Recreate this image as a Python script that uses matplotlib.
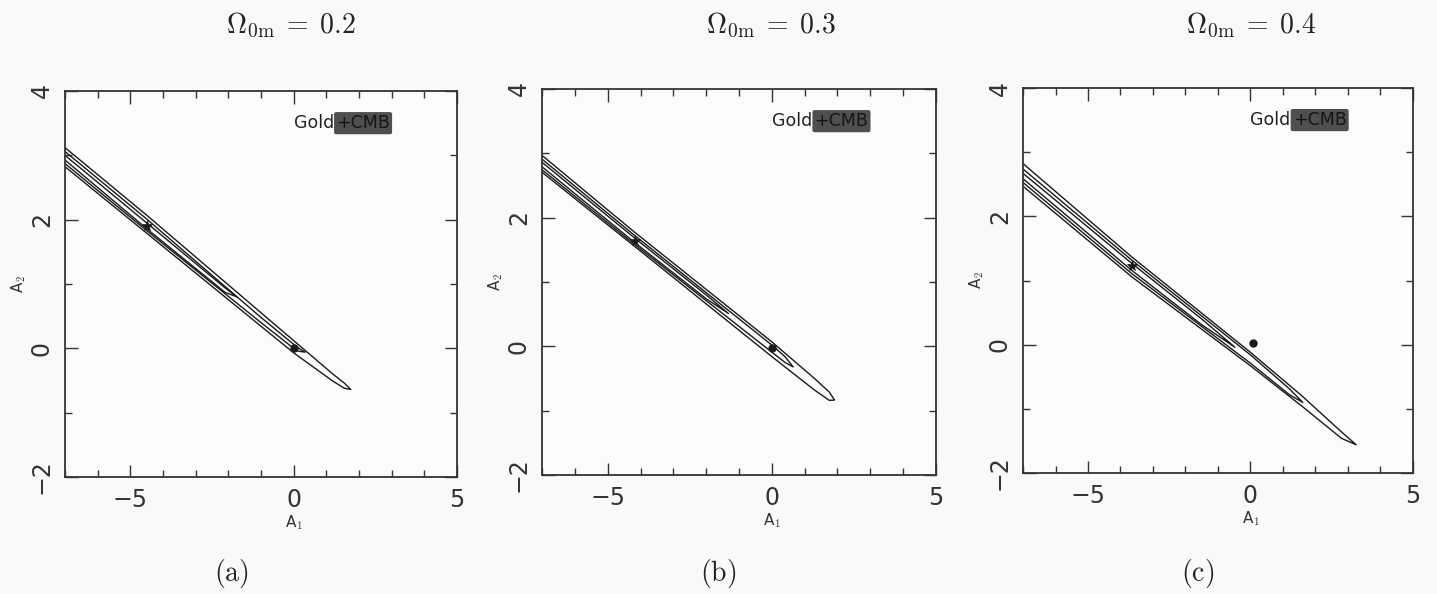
import numpy as np
import matplotlib
matplotlib.use('Agg')
import matplotlib.pyplot as plt
from matplotlib.ticker import MultipleLocator

# --- values (A1, A2) ---
OMEGA_0M = ['0.2', '0.3', '0.4']
PANEL_TAGS = ['(a)', '(b)', '(c)']
BEST_FIT = [(-4.50, 1.90), (-4.17, 1.64), (-3.66, 1.22)]
LCDM_POINT = [(0.0, 0.0), (0.0, -0.02), (0.07, 0.02)]

# each contour: x nodes, upper edge, lower edge, tip
a_outer = ([-7.5, -4.5, 0.0, 1.2, 1.55], [3.33, 2.07, 0.12, -0.40, -0.54],
           [3.03, 1.79, -0.07, -0.51, -0.62], (1.75, -0.64))
a_middle = ([-7.5, -4.5, -1.0, 0.1], [3.27, 2.01, 0.48, 0.02],
            [3.08, 1.83, 0.40, -0.04], (0.35, -0.06))
a_inner = ([-7.5, -4.5, -2.1], [3.21, 1.95, 0.94],
           [3.14, 1.86, 0.87], (-1.74, 0.80))

b_outer = ([-7.5, -4.17, 0.0, 1.3, 1.75], [3.18, 1.77, 0.07, -0.50, -0.71],
           [2.91, 1.55, -0.16, -0.68, -0.84], (1.91, -0.835))
b_middle = ([-7.5, -4.17, 0.0, 0.4], [3.12, 1.72, 0.02, -0.16],
            [2.95, 1.58, -0.09, -0.25], (0.65, -0.32))
b_inner = ([-7.5, -4.17, -2.0], [3.07, 1.68, 0.80],
           [3.00, 1.61, 0.74], (-1.32, 0.51))

c_outer = ([-7.5, -3.66, 0.0, 1.61, 2.8], [3.04, 1.37, -0.12, -0.81, -1.36],
           [2.68, 1.06, -0.33, -0.97, -1.46], (3.25, -1.56))
c_middle = ([-7.5, -3.66, 0.0, 1.2], [2.95, 1.32, -0.16, -0.69],
            [2.74, 1.11, -0.29, -0.78], (1.61, -0.90))
c_inner = ([-7.5, -3.66, -1.5], [2.88, 1.27, 0.40],
           [2.80, 1.16, 0.31], (-0.48, -0.04))

CONTOURS = [[a_outer, a_middle, a_inner],
            [b_outer, b_middle, b_inner],
            [c_outer, c_middle, c_inner]]

# axes boxes in pixels (left, top, right, bottom)
AX_PX = [(65, 91, 457, 477), (542, 89, 936, 475), (1023, 88, 1413, 473)]
TITLE_X = [291, 771, 1251]
TAG_X = [231, 718, 1198]

W, H = 1437, 594
INK = '#1a1a1a'


def loop(contour):
    xs, up, lo, tip = contour
    px = list(xs) + [tip[0]] + list(xs)[::-1]
    py = list(up) + [tip[1]] + list(lo)[::-1]
    px.append(px[0])
    py.append(py[0])
    return px, py


plt.rcParams['mathtext.fontset'] = 'cm'
fig = plt.figure(figsize=(W / 100, H / 100), dpi=100)
fig.patch.set_facecolor('#f9f9f8')

for i in range(3):
    l, t, r, b = AX_PX[i]
    ax = fig.add_axes([l / W, 1 - b / H, (r - l) / W, (b - t) / H])
    ax.set_facecolor('#fbfbfa')

    for cont in CONTOURS[i]:
        px, py = loop(cont)
        ax.plot(px, py, color=INK, lw=1.0, solid_joinstyle='round')

    ax.plot(*BEST_FIT[i], marker='*', color=INK, ms=8, mew=0.5)
    ax.plot(*LCDM_POINT[i], marker='o', color=INK, ms=5)

    ax.text(0.0, 3.5, 'Gold', fontsize=12.5, color='#222', va='center', ha='left')
    ax.text(1.3, 3.5, '+CMB', fontsize=12.5, color='#151515', va='center', ha='left',
            bbox=dict(boxstyle='round,pad=0.12', fc='#3c3c3c', ec='none', alpha=0.9))

    ax.set_xlim(-7, 5)
    ax.set_ylim(-2, 4)
    ax.xaxis.set_major_locator(MultipleLocator(5))
    ax.xaxis.set_minor_locator(MultipleLocator(1))
    ax.yaxis.set_major_locator(MultipleLocator(2))
    ax.yaxis.set_minor_locator(MultipleLocator(1))
    ax.tick_params(which='both', direction='in', top=True, right=True,
                   color='#333', width=1.0)
    ax.tick_params(which='major', length=9)
    ax.tick_params(which='minor', length=5)
    ax.tick_params(axis='x', labelsize=17, pad=8, labelcolor='#333')
    ax.tick_params(axis='y', labelsize=17, pad=8, labelcolor='#333',
                   labelrotation=90)
    for lab in ax.get_yticklabels():
        lab.set_va('center')
    for sp in ax.spines.values():
        sp.set_color('#333')
        sp.set_linewidth(1.3)

    ax.set_xlabel('A$_1$', fontsize=11, color='#333')
    ax.xaxis.set_label_coords(7 / 12, -0.095)
    ax.set_ylabel('A$_2$', fontsize=11, color='#333')
    ax.yaxis.set_label_coords(-0.095, 0.5)

    fig.text(TITLE_X[i] / W, 1 - 25 / H,
             r'$\Omega_{0\mathrm{m}}\;=\;%s$' % OMEGA_0M[i],
             fontsize=20, ha='center', va='center', color='#222')
    fig.text(TAG_X[i] / W, 1 - 574 / H, r'$\mathrm{%s}$' % PANEL_TAGS[i],
             fontsize=20, ha='center', va='center', color='#222')

fig.savefig('out.png', dpi=100, facecolor=fig.get_facecolor())
